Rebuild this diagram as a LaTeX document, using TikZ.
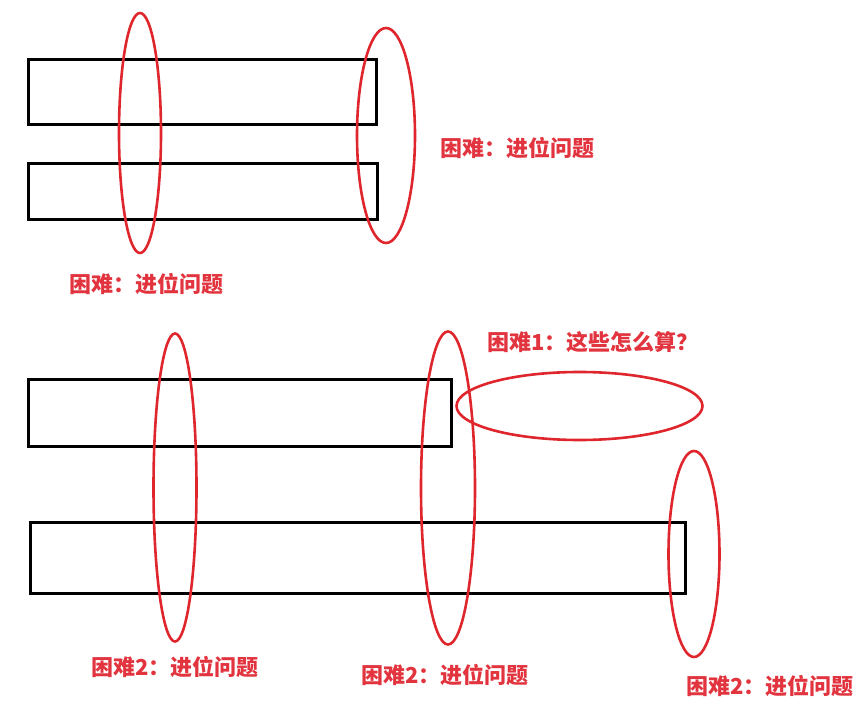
\documentclass[tikz,border=0pt]{standalone}
\usepackage{fontspec}
\newfontfamily\cjk{Noto Sans CJK SC}
\usetikzlibrary{shapes.geometric}

\definecolor{markred}{RGB}{222,38,44}
\definecolor{notered}{RGB}{226,52,62}

\begin{document}
\begin{tikzpicture}[x=1pt,y=-1pt,
	bar/.style={draw=black,line width=3pt,inner sep=0pt,outer sep=0pt},
	ring/.style={ellipse,draw=markred,line width=2.6pt,inner sep=0pt},
	note/.style={text=notered,font=\cjk\bfseries\fontsize{22}{26}\selectfont,inner sep=0pt}]
	\useasboundingbox (0,0) rectangle (868,703);
	% upper pair
	\node[bar,minimum width=348pt,minimum height=65pt] (A) at (202,92.5) {};
	\node[bar,minimum width=349pt,minimum height=56pt] (B) at (202.5,192) {};
	\node[ring,minimum width=42pt,minimum height=240pt] (ra) at (140,133) {};
	\node[ring,minimum width=58pt,minimum height=215pt] (rb) at (386,135.5) {};
	\node[note,anchor=west] (na) at (440,148) {困难：进位问题};
	\node[note,anchor=west] (nb) at (69,284) {困难：进位问题};
	% lower pair
	\node[bar,minimum width=423pt,minimum height=67pt] (C) at (240,413) {};
	\node[bar,minimum width=655pt,minimum height=71pt] (D) at (357.5,558) {};
	\node[ring,minimum width=43pt,minimum height=308pt] (rc) at (175,487.5) {};
	\node[ring,minimum width=54pt,minimum height=313pt] (rd) at (448,488) {};
	\node[ring,minimum width=246pt,minimum height=68pt] (re) at (579.5,406) {};
	\node[ring,minimum width=51pt,minimum height=206pt] (rf) at (694,554) {};
	\node[note,anchor=west] (nc) at (487,342) {困难1：这些怎么算？};
	\node[note,anchor=west] (nd) at (91,667) {困难2：进位问题};
	\node[note,anchor=west] (ne) at (361,675) {困难2：进位问题};
	\node[note,anchor=west] (nf) at (686,686) {困难2：进位问题};
\end{tikzpicture}
\end{document}
